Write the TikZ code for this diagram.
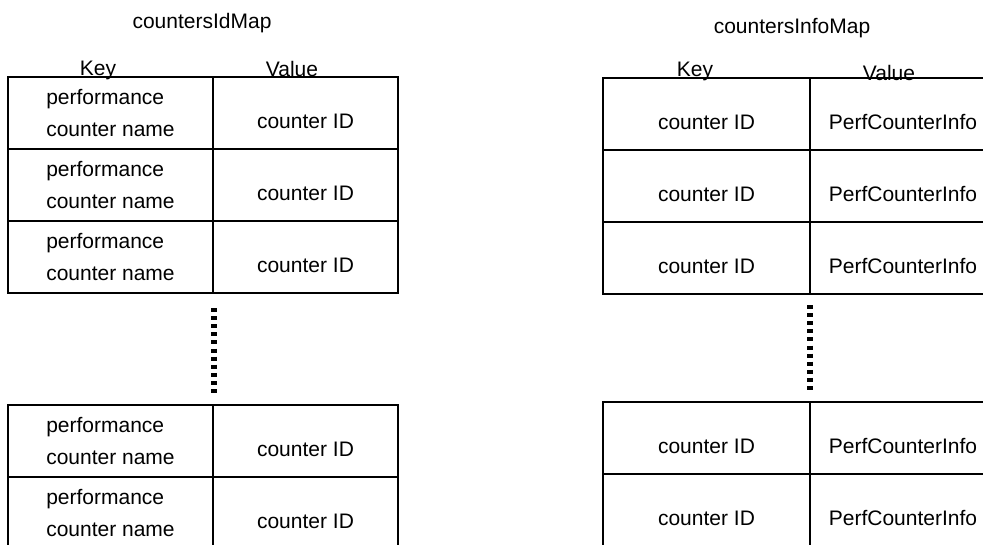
\documentclass[tikz,border=0pt]{standalone}
\usepackage{fontspec}
\setmainfont{Liberation Sans}
\usepackage{tikz}
\usetikzlibrary{positioning}

\begin{document}
\begin{tikzpicture}[
  x=1pt,y=-1pt,
  node distance=0pt,
  cell/.style={draw,line width=1.2pt,inner sep=0pt,outer sep=0pt,minimum height=72pt,font=\fontsize{21}{32}\selectfont},
  namecell/.style={cell,minimum width=205pt,align=left},
  oneline/.style={cell,text height=30pt,text depth=0pt},
  idcell/.style={oneline,minimum width=185pt},
  infokeycell/.style={oneline,minimum width=207pt},
  infocell/.style={oneline,minimum width=186pt},
  title/.style={anchor=base,font=\fontsize{21}{25}\selectfont},
  dots/.style={line width=5.5pt,dash pattern=on 4pt off 4.1pt}
]
\path[use as bounding box,fill=white] (0,0) rectangle (983,544);
\clip (0,0) rectangle (983,544);

% countersIdMap
\node[title] (idtitle) at (202,28) {countersIdMap};
\node[title] (idkeyhead) at (98,75) {Key};
\node[title] (idvalhead) at (292,76) {Value};
\node[namecell] (idkey1) at (110.5,113) {performance\\counter name};
\node[idcell,right=of idkey1] (idval1) {counter ID};
\node[namecell,below=of idkey1] (idkey2) {performance\\counter name};
\node[idcell,right=of idkey2] (idval2) {counter ID};
\node[namecell,below=of idkey2] (idkey3) {performance\\counter name};
\node[idcell,right=of idkey3] (idval3) {counter ID};
\coordinate (iddotstop) at (214,308);
\coordinate (iddotsend) at (214,393);
\draw[dots] (iddotstop) -- (iddotsend);
\node[namecell] (idkey4) at (110.5,441) {performance\\counter name};
\node[idcell,right=of idkey4] (idval4) {counter ID};
\node[namecell,below=of idkey4] (idkey5) {performance\\counter name};
\node[idcell,right=of idkey5] (idval5) {counter ID};

% countersInfoMap
\node[title] (infotitle) at (792,33) {countersInfoMap};
\node[title] (infokeyhead) at (695,76) {Key};
\node[title] (infovalhead) at (889,80) {Value};
\node[infokeycell] (infokey1) at (706.5,114) {counter ID};
\node[infocell,right=of infokey1] (infoval1) {PerfCounterInfo};
\node[infokeycell,below=of infokey1] (infokey2) {counter ID};
\node[infocell,right=of infokey2] (infoval2) {PerfCounterInfo};
\node[infokeycell,below=of infokey2] (infokey3) {counter ID};
\node[infocell,right=of infokey3] (infoval3) {PerfCounterInfo};
\coordinate (infodotstop) at (810,305);
\coordinate (infodotsend) at (810,390);
\draw[dots] (infodotstop) -- (infodotsend);
\node[infokeycell] (infokey4) at (706.5,438) {counter ID};
\node[infocell,right=of infokey4] (infoval4) {PerfCounterInfo};
\node[infokeycell,below=of infokey4] (infokey5) {counter ID};
\node[infocell,right=of infokey5] (infoval5) {PerfCounterInfo};
\end{tikzpicture}
\end{document}
